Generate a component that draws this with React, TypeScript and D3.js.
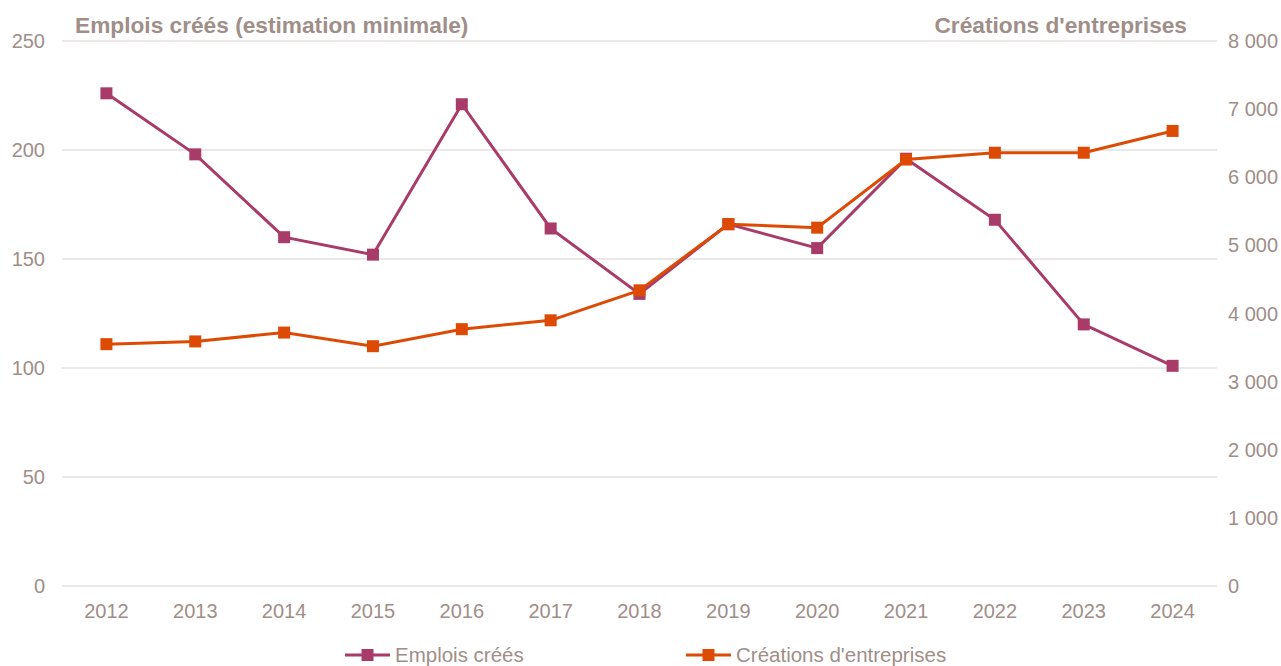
import * as d3 from "d3";
import { useEffect, useRef } from "react";

const years = ["2012", "2013", "2014", "2015", "2016", "2017", "2018", "2019", "2020", "2021", "2022", "2023", "2024"];
const emplois = [226, 198, 160, 152, 221, 164, 134, 166, 155, 196, 168, 120, 101];
const creations = [3550, 3590, 3720, 3520, 3770, 3900, 4340, 5310, 5260, 6260, 6360, 6360, 6680];
const leftTicks = [0, 50, 100, 150, 200, 250];
const rightTicks = [0, 1000, 2000, 3000, 4000, 5000, 6000, 7000, 8000];

const W = 1281;
const H = 666;
const textColor = "#a08e89";
const purple = "#a93b69";
const orange = "#dd4a04";

export default function App() {
  const ref = useRef<SVGSVGElement>(null);

  useEffect(() => {
    if (!ref.current) return;
    const svg = d3.select(ref.current);
    svg.selectAll("*").remove();
    const font = "'Liberation Sans', Arial, sans-serif";

    const x = d3.scaleBand().domain(years).range([62, 1217]);
    const yL = d3.scaleLinear().domain([0, 250]).range([586, 41]);
    const yR = d3.scaleLinear().domain([0, 8000]).range([586, 41]);

    // grid
    svg.append("g")
      .selectAll("line")
      .data(leftTicks)
      .enter()
      .append("line")
      .attr("x1", 62)
      .attr("x2", 1217)
      .attr("y1", (d) => yL(d))
      .attr("y2", (d) => yL(d))
      .attr("stroke", "#e6e1e1")
      .attr("stroke-width", 1.5);

    // left axis labels
    svg.append("g")
      .selectAll("text")
      .data(leftTicks)
      .enter()
      .append("text")
      .attr("x", 45)
      .attr("y", (d) => yL(d) + 7)
      .attr("text-anchor", "end")
      .attr("font-family", font)
      .attr("font-size", 20)
      .attr("fill", textColor)
      .text((d) => d);

    // right axis labels
    const fmt = (v: number) => d3.format(",")(v).replace(/,/g, " ");
    svg.append("g")
      .selectAll("text")
      .data(rightTicks)
      .enter()
      .append("text")
      .attr("x", 1228)
      .attr("y", (d) => yR(d) + 7)
      .attr("text-anchor", "start")
      .attr("font-family", font)
      .attr("font-size", 20)
      .attr("fill", textColor)
      .text((d) => fmt(d));

    // x labels
    svg.append("g")
      .selectAll("text")
      .data(years)
      .enter()
      .append("text")
      .attr("x", (d) => x(d)! + x.bandwidth() / 2)
      .attr("y", 618)
      .attr("text-anchor", "middle")
      .attr("font-family", font)
      .attr("font-size", 20)
      .attr("fill", textColor)
      .text((d) => d);

    // titles
    svg.append("text")
      .attr("x", 75)
      .attr("y", 33)
      .attr("font-family", font)
      .attr("font-weight", "bold")
      .attr("font-size", 22.7)
      .attr("fill", textColor)
      .text("Emplois créés (estimation minimale)");
    svg.append("text")
      .attr("x", 1187)
      .attr("y", 33)
      .attr("text-anchor", "end")
      .attr("font-family", font)
      .attr("font-weight", "bold")
      .attr("font-size", 22.7)
      .attr("fill", textColor)
      .text("Créations d'entreprises");

    const cx = (i: number) => x(years[i])! + x.bandwidth() / 2;
    const series = [
      { vals: emplois, y: yL, color: purple },
      { vals: creations, y: yR, color: orange },
    ];
    series.forEach((s) => {
      const line = d3.line<number>()
        .x((_, i) => cx(i))
        .y((d) => s.y(d));
      svg.append("path")
        .datum(s.vals)
        .attr("fill", "none")
        .attr("stroke", s.color)
        .attr("stroke-width", 3)
        .attr("d", line);
      svg.append("g")
        .selectAll("rect")
        .data(s.vals)
        .enter()
        .append("rect")
        .attr("x", (_, i) => cx(i) - 6)
        .attr("y", (d) => s.y(d) - 6)
        .attr("width", 12)
        .attr("height", 12)
        .attr("fill", s.color);
    });

    // legend
    const legend = [
      { label: "Emplois créés", color: purple, x0: 345 },
      { label: "Créations d'entreprises", color: orange, x0: 686 },
    ];
    legend.forEach((l) => {
      const g = svg.append("g");
      g.append("line")
        .attr("x1", l.x0)
        .attr("x2", l.x0 + 45)
        .attr("y1", 655)
        .attr("y2", 655)
        .attr("stroke", l.color)
        .attr("stroke-width", 3);
      g.append("rect")
        .attr("x", l.x0 + 22.5 - 6)
        .attr("y", 649)
        .attr("width", 12)
        .attr("height", 12)
        .attr("fill", l.color);
      g.append("text")
        .attr("x", l.x0 + 50)
        .attr("y", 662)
        .attr("font-family", font)
        .attr("font-size", 20.5)
        .attr("fill", textColor)
        .text(l.label);
    });
  }, []);

  return (
    <svg
      ref={ref}
      width={W}
      height={H}
      style={{ position: "absolute", left: 0, top: 0, background: "#fff" }}
    />
  );
}
